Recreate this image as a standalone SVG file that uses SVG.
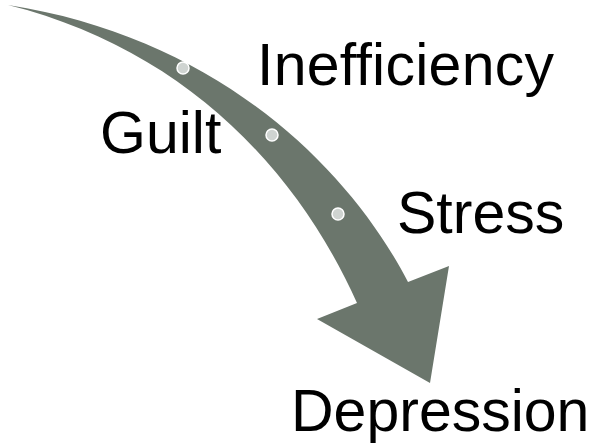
<svg xmlns="http://www.w3.org/2000/svg" width="595" height="445" viewBox="0 0 595 445">
<style>
.lbl{font-family:"Liberation Sans",Arial,sans-serif;font-size:59px;fill:#000}
.dot{fill:#cfd4d1;stroke:#ffffff;stroke-width:1.5}
</style>
<rect width="595" height="445" fill="#ffffff"/>
<g id="connectors">
<path id="arrow" d="M8,5 C220,38 350,170 408,282 L449,266 L430,383 L317,319 L357,303 C295,165 180,48 8,5 Z" fill="#6b766c"/>
</g>
<g id="dots">
<circle class="dot" cx="183" cy="68" r="6"/>
<circle class="dot" cx="272" cy="135" r="6"/>
<circle class="dot" cx="338" cy="214" r="6"/>
</g>
<g id="node-inefficiency"><text class="lbl" x="257" y="85" textLength="297" lengthAdjust="spacing">Inefficiency</text></g>
<g id="node-guilt"><text class="lbl" x="100" y="153">Guilt</text></g>
<g id="node-stress"><text class="lbl" x="397" y="233">Stress</text></g>
<g id="node-depression"><text class="lbl" x="291" y="431">Depression</text></g>
</svg>
